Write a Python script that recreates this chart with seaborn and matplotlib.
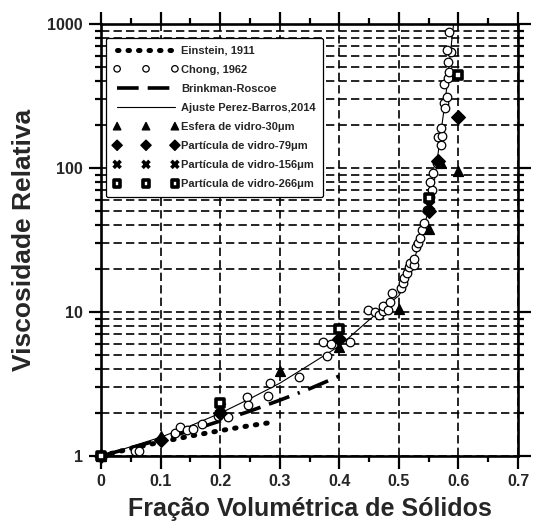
import numpy as np
import pandas as pd
import matplotlib
matplotlib.use("Agg")
import matplotlib.pyplot as plt
import seaborn as sns
from matplotlib.ticker import MultipleLocator, LogLocator, FixedLocator, FixedFormatter, NullFormatter

# ---------------- data ----------------
einstein_phi = [0.0, 0.05, 0.10, 0.15, 0.20, 0.25, 0.29]
einstein_mu = [1.0, 1.125, 1.25, 1.375, 1.5, 1.625, 1.72]

brinkman_phi = [0.0, 0.05, 0.10, 0.15, 0.20, 0.25, 0.30, 0.35, 0.40]
brinkman_mu = [1.0, 1.14, 1.30, 1.50, 1.75, 2.05, 2.44, 2.93, 3.59]

fit_phi = [0.0, 0.05, 0.10, 0.15, 0.20, 0.25, 0.30, 0.35, 0.40, 0.45, 0.50,
           0.52, 0.54, 0.55, 0.56, 0.57, 0.575, 0.58, 0.585, 0.59, 0.593]
fit_mu = [1.0, 1.16, 1.35, 1.62, 1.98, 2.5, 3.2, 4.3, 5.8, 8.8, 13.0,
          18.5, 38, 50, 83, 170, 240, 350, 550, 850, 1100]

chong_phi = [0.057, 0.063, 0.124, 0.132, 0.144, 0.154, 0.169, 0.197, 0.214,
             0.245, 0.246, 0.281, 0.283, 0.332, 0.373, 0.380, 0.386, 0.418,
             0.448, 0.460, 0.466, 0.474, 0.473, 0.481, 0.485, 0.489, 0.504,
             0.507, 0.509, 0.513, 0.517, 0.519, 0.526, 0.525, 0.529, 0.532,
             0.536, 0.539, 0.542, 0.547, 0.553, 0.556, 0.553, 0.557, 0.564,
             0.570, 0.565, 0.573, 0.570, 0.576, 0.578, 0.581, 0.575, 0.582,
             0.584, 0.582, 0.587, 0.581, 0.584]
chong_mu = [1.08, 1.08, 1.44, 1.58, 1.52, 1.53, 1.66, 1.90, 1.87,
            2.58, 2.27, 2.61, 3.23, 3.52, 6.16, 4.95, 5.96, 6.16,
            10.3, 10.0, 9.5, 10.2, 11.0, 10.4, 11.8, 13.5, 14.6,
            15.9, 17.1, 18.8, 20.6, 22.0, 21.2, 23.2, 28.3, 30.3,
            32.5, 37, 41.7, 51, 63, 70, 80, 93, 108,
            144, 165, 167, 190, 283, 260, 312, 385, 425,
            465, 545, 640, 665, 880]

tri_phi = [0.0, 0.1, 0.3, 0.4, 0.5, 0.55, 0.57, 0.6]
tri_mu = [1.0, 1.38, 3.9, 5.7, 10.5, 38, 108, 95]

dia_phi = [0.0, 0.1, 0.2, 0.4, 0.55, 0.565, 0.6]
dia_mu = [1.0, 1.3, 2.0, 6.5, 50, 112, 225]

x_phi = [0.0, 0.2, 0.4, 0.55]
x_mu = [1.0, 2.2, 7.0, 55]

sq_phi = [0.0, 0.2, 0.4, 0.55, 0.6]
sq_mu = [1.0, 2.35, 7.6, 62, 440]

x_ticks = [0, 0.1, 0.2, 0.3, 0.4, 0.5, 0.6, 0.7]
x_tick_labels = ["0", "0.1", "0.2", "0.3", "0.4", "0.5", "0.6", "0.7"]
y_ticks = [1, 10, 100, 1000]
y_tick_labels = ["1", "10", "100", "1000"]

labels = ["Einstein, 1911", "Chong, 1962", "Brinkman-Roscoe",
          "Ajuste Perez-Barros,2014", "Esfera de vidro-30μm",
          "Partícula de vidro-79μm", "Partícula de vidro-156μm",
          "Partícula de vidro-266μm"]

# ---------------- style ----------------
sns.set_style("ticks")
plt.rcParams["font.family"] = ["Liberation Sans", "DejaVu Sans"]
plt.rcParams["font.weight"] = "bold"

fig = plt.figure(figsize=(5.34, 5.24), dpi=100)
ax = fig.add_axes([101 / 534, 68 / 524, 417 / 534, 432 / 524])
ax.set_yscale("log")

# lines
sns.lineplot(x=einstein_phi, y=einstein_mu, ax=ax, color="black", lw=3.6,
             linestyle=(0, (0.3, 1.8)), dash_capstyle="round", sort=False,
             estimator=None, label=labels[0], zorder=3)
sns.scatterplot(x=chong_phi, y=chong_mu, ax=ax, marker="o", s=38,
                facecolor="white", edgecolor="black", linewidth=0.9,
                label=labels[1], zorder=4, clip_on=False)
sns.lineplot(x=brinkman_phi, y=brinkman_mu, ax=ax, color="black", lw=2.6,
             linestyle=(0, (6, 2.5, 6, 2.5, 0.6, 2.5)), sort=False,
             estimator=None, label=labels[2], zorder=3)
sns.lineplot(x=fit_phi, y=fit_mu, ax=ax, color="black", lw=0.8, sort=False,
             estimator=None, label=labels[3], zorder=3)
sns.scatterplot(x=tri_phi, y=tri_mu, ax=ax, marker="^", s=50, color="black",
                edgecolor="black", linewidth=1, label=labels[4], zorder=5,
                clip_on=False)
sns.scatterplot(x=dia_phi, y=dia_mu, ax=ax, marker="D", s=48, color="black",
                edgecolor="black", linewidth=1, label=labels[5], zorder=5,
                clip_on=False)
sns.scatterplot(x=x_phi, y=x_mu, ax=ax, marker="x", s=45, color="black",
                linewidth=2.6, label=labels[6], zorder=6, clip_on=False)
sns.scatterplot(x=sq_phi, y=sq_mu, ax=ax, marker="s", s=40,
                facecolor="white", edgecolor="black", linewidth=2.6,
                label=labels[7], zorder=7, clip_on=False)

# axes
ax.set_xlim(0, 0.7)
ax.set_ylim(1, 1000)
ax.xaxis.set_major_locator(FixedLocator(x_ticks))
ax.xaxis.set_major_formatter(FixedFormatter(x_tick_labels))
ax.xaxis.set_minor_locator(MultipleLocator(0.05))
ax.yaxis.set_major_locator(FixedLocator(y_ticks))
ax.yaxis.set_major_formatter(FixedFormatter(y_tick_labels))
ax.yaxis.set_minor_locator(LogLocator(base=10, subs=np.arange(2, 10)))
ax.yaxis.set_minor_formatter(NullFormatter())

for s in ax.spines.values():
    s.set_visible(True)
    s.set_linewidth(1.9)
    s.set_color("black")

ax.tick_params(which="both", direction="out", top=True, right=True,
               color="black", width=1.6)
ax.tick_params(which="major", length=9, labelsize=11.5, pad=4)
ax.tick_params(which="minor", length=4.5)
for lab in ax.get_xticklabels() + ax.get_yticklabels():
    lab.set_fontweight("bold")

ax.set_axisbelow(True)
ax.grid(True, axis="x", which="major", color="black", lw=1.2,
        linestyle=(0, (5, 2.5)))
ax.grid(True, axis="y", which="both", color="black", lw=1.2,
        linestyle=(0, (5, 2.5)))

ax.set_xlabel("Fração Volumétrica de Sólidos", fontsize=18,
              fontweight="bold", labelpad=6)
ax.set_ylabel("Viscosidade Relativa", fontsize=19, fontweight="bold",
              labelpad=8)

handles, labs = ax.get_legend_handles_labels()
leg = ax.legend(handles, labs, loc="upper left",
                bbox_to_anchor=(0.012, 0.968), borderaxespad=0,
                numpoints=3, scatterpoints=3, scatteryoffsets=[0.5],
                markerscale=0.75,
                handlelength=5.8, handletextpad=0.25, labelspacing=0.82,
                borderpad=0.7, fancybox=True, framealpha=1,
                edgecolor="black", prop={"weight": "bold", "size": 8.0})
leg.get_frame().set_linewidth(0.9)

fig.savefig("out.png", dpi=100)
